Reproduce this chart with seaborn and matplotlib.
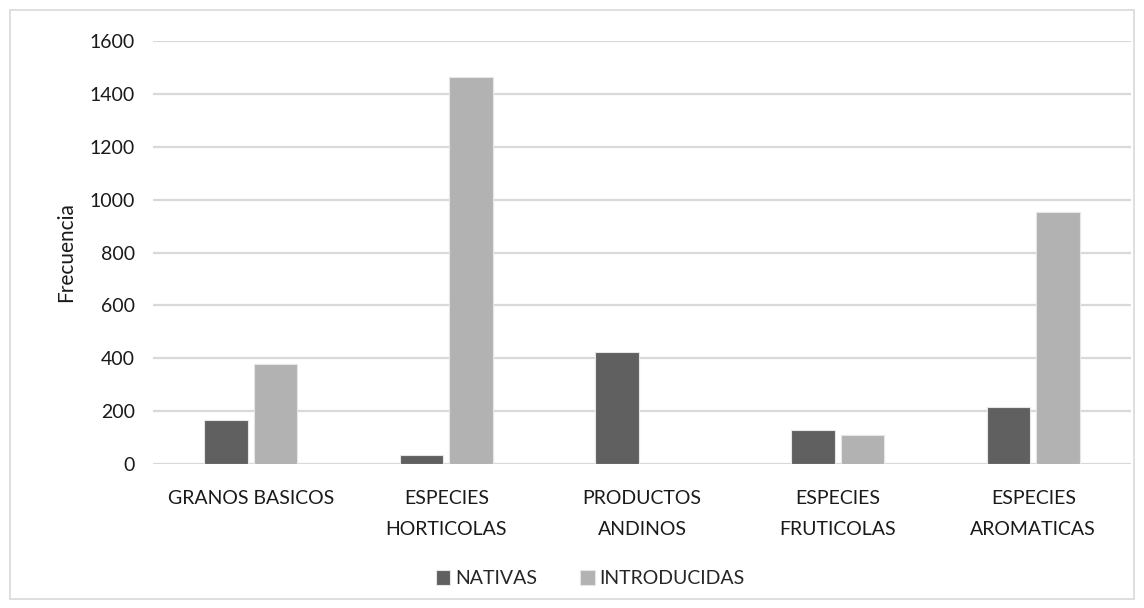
import pandas as pd
import seaborn as sns
import matplotlib.pyplot as plt
from matplotlib.patches import Rectangle

categorias = ["GRANOS BASICOS", "ESPECIES\nHORTICOLAS", "PRODUCTOS\nANDINOS",
              "ESPECIES\nFRUTICOLAS", "ESPECIES\nAROMATICAS"]
nativas = [166, 33, 422, 127, 214]
introducidas = [378, 1465, 0, 109, 952]
series = ["NATIVAS", "INTRODUCIDAS"]
colores = ["#606060", "#b2b2b2"]

df = pd.DataFrame({
    "Categoria": categorias * 2,
    "Frecuencia": nativas + introducidas,
    "Tipo": [series[0]] * len(categorias) + [series[1]] * len(categorias),
})

sns.set_theme(style="white")
plt.rcParams["font.family"] = ["Lato", "DejaVu Sans"]

fig = plt.figure(figsize=(11.44, 6.08), dpi=100)
ax = fig.add_axes([0.1337, 0.2368, 0.855, 0.6958])

sns.barplot(data=df, x="Categoria", y="Frecuencia", hue="Tipo",
            palette=colores, width=0.508, gap=0.12, ax=ax,
            edgecolor="#e6e6e6", linewidth=0.8, legend=True)

ax.set_ylim(0, 1600)
ax.set_yticks(range(0, 1601, 200))
ax.yaxis.grid(True, color="#d9d9d9", linewidth=1.6)
ax.set_axisbelow(True)
for s in ax.spines.values():
    s.set_visible(False)
ax.tick_params(axis="both", length=0, labelsize=14, colors="#1a1a1a")
ax.tick_params(axis="x", pad=19)
ax.tick_params(axis="y", pad=13)
ax.set_xlabel("")
ax.set_ylabel("Frecuencia", fontsize=15, color="#1a1a1a", labelpad=10)
for lbl in ax.get_xticklabels():
    lbl.set_linespacing(1.95)

ax.legend(loc="center", bbox_to_anchor=(0.516, 0.048), bbox_transform=fig.transFigure,
          ncol=2, frameon=False, fontsize=14, handlelength=0.75, handleheight=0.75,
          columnspacing=2.2, handletextpad=0.25)

fig.patches.append(Rectangle((0.009, 0.015), 0.982, 0.968, transform=fig.transFigure,
                             fill=False, edgecolor="#d9d9d9", linewidth=1.2))

fig.savefig("out.png", dpi=100)
